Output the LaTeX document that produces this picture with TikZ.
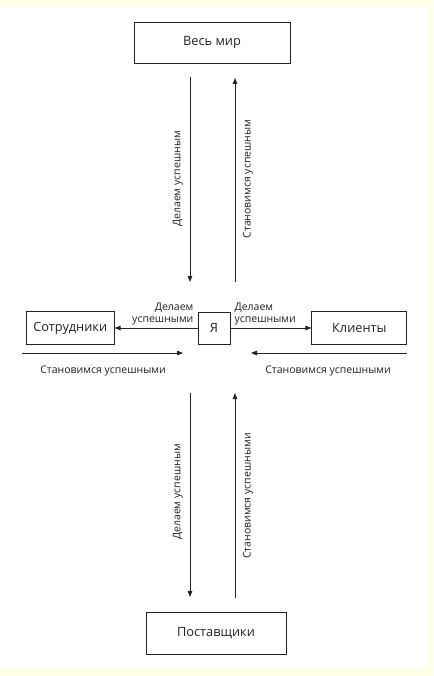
\documentclass[tikz,border=0pt]{standalone}
\usepackage{fontspec}
\setmainfont{Open Sans}
\usetikzlibrary{arrows.meta, positioning}
\definecolor{pagebg}{RGB}{255,255,232}
\definecolor{ink}{RGB}{35,35,35}

\begin{document}
\begin{tikzpicture}[x=1pt, y=-1pt,
        box/.style={rectangle, draw=ink, line width=0.8pt, inner sep=0pt,
                    font=\fontsize{12.8}{15}\selectfont, text=ink},
        arr/.style={-{Triangle[length=6pt,width=4.5pt]}, line width=0.8pt, ink},
        lbl/.style={font=\fontsize{10.5}{11.5}\selectfont, text=ink, inner sep=1pt},
        vlbl/.style={lbl, rotate=90}]
      % page
      \fill[pagebg] (0,0) rectangle (433,676);
      \fill[white] (0,7) rectangle (428,668);
      % boxes
      \node[box, minimum width=156pt, minimum height=41pt] (world) at (212,42.5) {Весь мир};
      \node[box, minimum width=32pt, minimum height=32pt] (me) at (214,328) {Я};
      \node[box, minimum width=88pt, minimum height=33pt, left=83pt of me] (staff) {Сотрудники};
      \node[box, minimum width=95pt, minimum height=33pt, right=81pt of me] (clients) {Клиенты};
      \node[box, minimum width=140pt, minimum height=42pt] (suppliers) at (216,633) {Поставщики};
      % free ends of the connectors
      \coordinate (tl1) at (190,77);  \coordinate (tl2) at (190,282);
      \coordinate (tr1) at (235,282); \coordinate (tr2) at (235,78);
      \coordinate (bl1) at (190,393); \coordinate (bl2) at (190,597);
      \coordinate (br1) at (235,598); \coordinate (br2) at (235,393);
      \coordinate (hl1) at (22,353);  \coordinate (hl2) at (183,353);
      \coordinate (hr1) at (407,353); \coordinate (hr2) at (251,353);
      % connectors
      \draw[arr] (me) -- (staff);
      \draw[arr] (me) -- (clients);
      \draw[arr] (tl1) -- (tl2);
      \draw[arr] (tr1) -- (tr2);
      \draw[arr] (bl1) -- (bl2);
      \draw[arr] (br1) -- (br2);
      \draw[arr] (hl1) -- (hl2);
      \draw[arr] (hr1) -- (hr2);
      % labels
      \node[lbl, align=right, anchor=south east] (lmake) at ([xshift=-3pt,yshift=2pt]me.west) {Делаем\\успешными};
      \node[lbl, align=left, anchor=south west] (rmake) at ([xshift=3pt,yshift=2pt]me.east) {Делаем\\успешными};
      \node[lbl] (lbecome) at (103,371) {Становимся успешными};
      \node[lbl] (rbecome) at (328,371) {Становимся успешными};
      \node[vlbl] (tmake) at (178,179) {Делаем успешным};
      \node[vlbl] (tbecome) at (248,179) {Становимся успешным};
      \node[vlbl] (bmake) at (178,492) {Делаем успешным};
      \node[vlbl] (bbecome) at (248,496) {Становимся успешными};
    \end{tikzpicture}
\end{document}
